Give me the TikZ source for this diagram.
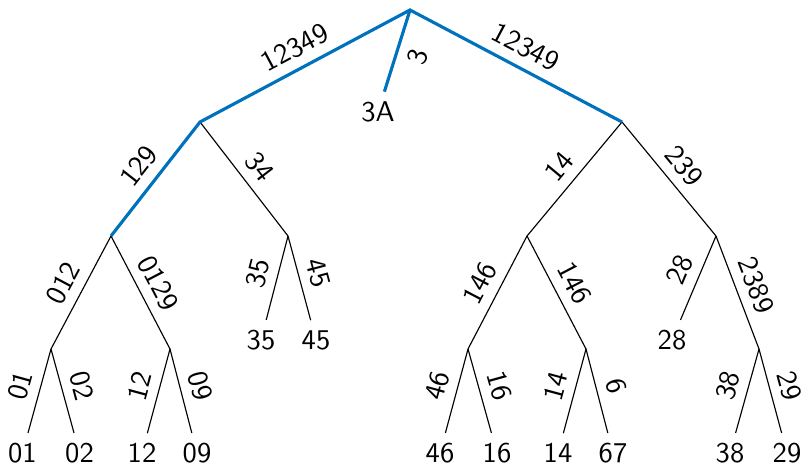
\documentclass[tikz,border=0pt]{standalone}
\usepackage{fontspec}
\definecolor{treeblue}{RGB}{0,114,189}
\tikzset{
  edge/.style={draw=black, line width=0.4pt},
  hot/.style={draw=treeblue, line width=1.1pt, line join=miter},
  lab/.style={sloped, midway, font=\sffamily},
  leaf/.style={font=\sffamily}
}
\begin{document}
\begin{tikzpicture}[x=0.35pt, y=-0.35pt]
\useasboundingbox (0,0) rectangle (804,469);
% inner points
\coordinate (root) at (410,10);
\coordinate (L) at (200,122);
\coordinate (R) at (622,122);
\coordinate (LL) at (111,236);
\coordinate (LR) at (288,236);
\coordinate (RL) at (527,236);
\coordinate (RR) at (716,236);
\coordinate (LLL) at (51,349);
\coordinate (LLR) at (170,349);
\coordinate (RLL) at (468,349);
\coordinate (RLR) at (586,349);
\coordinate (RRR) at (759,349);
% leaves
\node[leaf] (n3A) at (378,112) {3A};
\node[leaf] (l01) at (22.5,453) {01};
\node[leaf] (l02) at (79.5,453) {02};
\node[leaf] (l12) at (142,453) {12};
\node[leaf] (l09) at (197,453) {09};
\node[leaf] (l35) at (261,340) {35};
\node[leaf] (l45) at (316,340) {45};
\node[leaf] (l46) at (440,453) {46};
\node[leaf] (l16) at (497,453) {16};
\node[leaf] (l14) at (558,453) {14};
\node[leaf] (l67) at (613,453) {67};
\node[leaf] (l28) at (672,340) {28};
\node[leaf] (l38) at (730,453) {38};
\node[leaf] (l29) at (787,453) {29};
% black edges
\draw[edge] (L) -- node[lab, above] {34} (LR);
\draw[edge] (LL) -- node[lab, above] {012} (LLL);
\draw[edge] (LL) -- node[lab, above] {0129} (LLR);
\draw[edge] (LR) -- node[lab, above] {35} (l35);
\draw[edge] (LR) -- node[lab, above] {45} (l45);
\draw[edge] (LLL) -- node[lab, above] {01} (l01);
\draw[edge] (LLL) -- node[lab, above] {02} (l02);
\draw[edge] (LLR) -- node[lab, above] {12} (l12);
\draw[edge] (LLR) -- node[lab, above] {09} (l09);
\draw[edge] (R) -- node[lab, above] {14} (RL);
\draw[edge] (R) -- node[lab, above] {239} (RR);
\draw[edge] (RL) -- node[lab, above] {146} (RLL);
\draw[edge] (RL) -- node[lab, above] {146} (RLR);
\draw[edge] (RR) -- node[lab, above] {28} (l28);
\draw[edge] (RR) -- node[lab, above] {2389} (RRR);
\draw[edge] (RLL) -- node[lab, above] {46} (l46);
\draw[edge] (RLL) -- node[lab, above] {16} (l16);
\draw[edge] (RLR) -- node[lab, above] {14} (l14);
\draw[edge] (RLR) -- node[lab, above] {6} (l67);
\draw[edge] (RRR) -- node[lab, above] {38} (l38);
\draw[edge] (RRR) -- node[lab, above] {29} (l29);
% blue path
\draw[hot] (root) -- node[lab, below] {3} (n3A);
\draw[hot] (LL) -- node[lab, above, text=black] {129} (L)
  -- node[lab, above, text=black] {12349} (root)
  -- node[lab, above, text=black] {12349} (R);
\end{tikzpicture}
\end{document}
